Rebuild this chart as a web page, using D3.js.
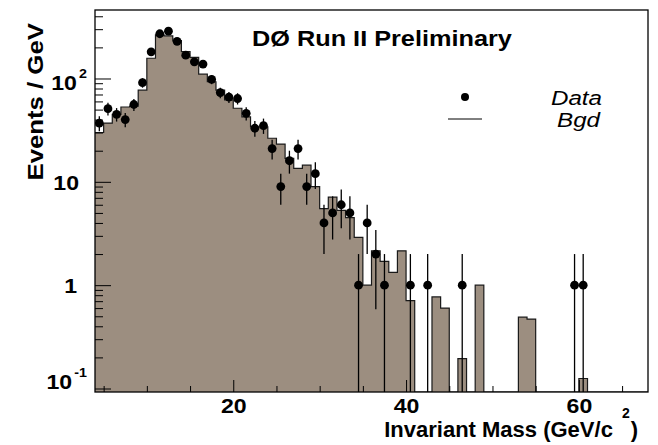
<!DOCTYPE html>
<html>
<head>
<meta charset="utf-8">
<script src="https://cdn.jsdelivr.net/npm/d3@7"></script>
<style>
body { margin: 0; background: #fff; }
svg text { font-family: "Liberation Sans", Arial, Helvetica, sans-serif; }
</style>
</head>
<body>
<div id="chart"></div>
<script>
// background histogram, 1 GeV bins, first bin starts at 4 GeV
var bgdStart = 4;
var bgdValues = [30, 37, 45, 53, 54, 77, 157, 264, 258, 232,
	182, 160, 110, 93, 77, 62, 51.5, 42.6, 34, 34,
	26.4, 23.2, 16.9, 13.5, 14.5, 9.0, 5.5, 7.1, 5.3, 4.5,
	2.9, 1.0, 2.15, 1.7, 1.33, 2.15, 0.71, 0, 0, 0.77,
	0.6, 0, 0.195, 0, 1.0, 0, 0, 0, 0, 0.49,
	0.47, 0, 0, 0, 0, 0, 0.125, 0, 0, 0,
	0, 0, 0, 0];

// data points (bin centre, events per GeV)
var dataMass = [4.5, 5.5, 6.5, 7.5, 8.5, 9.5, 10.5, 11.5, 12.5, 13.5,
	14.5, 15.5, 16.5, 17.5, 18.5, 19.5, 20.5, 21.5, 22.5, 23.5,
	24.5, 25.5, 26.5, 27.5, 28.5, 29.5, 30.5, 31.5, 32.5, 33.5,
	34.5, 35.5, 36.5, 37.5, 40.5, 42.5, 46.5, 59.5, 60.5];
var dataEvents = [37, 51, 45, 40, 56, 91, 181, 271, 287, 229,
	168, 145, 138, 98, 73, 66, 64, 46, 33, 35,
	21, 9, 16, 21, 9, 12, 4, 5, 6, 5,
	1, 4, 2, 1, 1, 1, 1, 1, 1];

// axis ticks
var xMajorTicks = [20, 40, 60];
var xMinorTicks = [5, 10, 15, 25, 30, 35, 45, 50, 55, 65];
var yMajorTicks = [0.1, 1, 10, 100];
var yMinorTicks = [0.2, 0.3, 0.4, 0.5, 0.6, 0.7, 0.8, 0.9,
	2, 3, 4, 5, 6, 7, 8, 9, 20, 30, 40, 50, 60, 70, 80, 90, 200, 300, 400];
var yTickLabels = [
	{ value: 100, base: "10", exp: "2" },
	{ value: 10, base: "10", exp: null },
	{ value: 1, base: "1", exp: null },
	{ value: 0.1, base: "10", exp: "-1" }
];

var xDomain = [4, 68];
var yDomain = [0.0925, 460];

//SVG setup
var margin = { top: 10, right: 10, bottom: 53, left: 95 };
var width = 553;
var height = 382;
var fillColor = "#9c8e80";

var svg = d3.select("#chart")
	.append("svg")
	.attr("width", width + margin.left + margin.right)
	.attr("height", height + margin.top + margin.bottom)
	.append("g")
	.attr("transform", "translate(" + margin.left + "," + margin.top + ")");

//Scales
var x = d3.scaleLinear().domain(xDomain).range([0, width]);
var y = d3.scaleLog().domain(yDomain).range([height, 0]);
var yc = function(v) { return v > yDomain[0] ? y(v) : height; };

svg.append("clipPath").attr("id", "frameClip")
	.append("rect").attr("width", width).attr("height", height);

//Background histogram as steps
var bins = bgdValues.map(function(v, i) { return { lo: bgdStart + i, v: v }; });
bins.push({ lo: bgdStart + bgdValues.length, v: bgdValues[bgdValues.length - 1] });

var plot = svg.append("g").attr("clip-path", "url(#frameClip)");

plot.append("path")
	.datum(bins)
	.attr("fill", fillColor)
	.attr("d", d3.area()
		.curve(d3.curveStepAfter)
		.x(function(d) { return x(d.lo); })
		.y0(height)
		.y1(function(d) { return yc(d.v); }));

plot.append("path")
	.datum(bins)
	.attr("fill", "none")
	.attr("stroke", "#1a1a1a")
	.attr("stroke-width", 1.2)
	.attr("d", d3.line()
		.curve(d3.curveStepAfter)
		.x(function(d) { return x(d.lo); })
		.y(function(d) { return yc(d.v); }));

//Data points with sqrt(N) error bars
var points = dataMass.map(function(m, i) { return { m: m, n: dataEvents[i] }; });
var pt = plot.selectAll(".pt")
	.data(points)
	.enter()
	.append("g")
	.attr("class", "pt");
pt.append("line")
	.attr("x1", function(d) { return x(d.m); })
	.attr("x2", function(d) { return x(d.m); })
	.attr("y1", function(d) { return yc(d.n - Math.sqrt(d.n)); })
	.attr("y2", function(d) { return yc(d.n + Math.sqrt(d.n)); })
	.attr("stroke", "#000")
	.attr("stroke-width", 1.3);
pt.append("circle")
	.attr("cx", function(d) { return x(d.m); })
	.attr("cy", function(d) { return y(d.n); })
	.attr("r", 4.4)
	.attr("fill", "#000");

//Ticks (inside the frame)
var tickAxis = function(axis, cls, transform) {
	var g = svg.append("g").attr("class", cls);
	if (transform) g.attr("transform", transform);
	g.call(axis);
	g.select(".domain").remove();
	g.selectAll(".tick line").attr("stroke", "#000").attr("stroke-width", 1);
	return g;
};
tickAxis(d3.axisLeft(y).tickValues(yMajorTicks).tickSize(-16).tickFormat(""), "y major");
tickAxis(d3.axisLeft(y).tickValues(yMinorTicks).tickSize(-8).tickFormat(""), "y minor");
tickAxis(d3.axisBottom(x).tickValues(xMinorTicks).tickSize(-6).tickFormat(""), "x minor",
	"translate(0," + height + ")");
var xg = tickAxis(d3.axisBottom(x).tickValues(xMajorTicks).tickSize(-12).tickPadding(6)
	.tickFormat(d3.format("d")), "x major", "translate(0," + height + ")");
xg.selectAll("text")
	.attr("fill", "#000")
	.attr("font-size", 21)
	.attr("font-weight", "bold")
	.attr("font-family", "'Liberation Sans', Arial, sans-serif")
	.attr("transform", "scale(1.1,1)");

//Y tick labels with exponents
yTickLabels.forEach(function(t) {
	var base = y(t.value) + (t.exp ? (t.value < 1 ? 0 : 12) : 8);
	var right = t.exp ? -8 : (t.base === "1" ? -18 : -16);
	var txt = svg.append("text")
		.attr("transform", "translate(" + right + "," + base + ") scale(1.1,1)")
		.attr("text-anchor", "end")
		.attr("font-size", 21)
		.attr("font-weight", "bold");
	txt.append("tspan").text(t.base);
	if (t.exp) {
		txt.append("tspan").attr("font-size", 13).attr("dy", -12).attr("dx", 2).text(t.exp);
	}
});

//Frame
svg.append("rect")
	.attr("width", width)
	.attr("height", height)
	.attr("fill", "none")
	.attr("stroke", "#000")
	.attr("stroke-width", 1.3);

//Axis titles
svg.append("text")
	.attr("transform", "translate(-52," + (y(10) - 80) + ") rotate(-90) scale(1.12,1)")
	.attr("text-anchor", "middle")
	.attr("font-size", 23)
	.attr("font-weight", "bold")
	.text("Events / GeV");

var xt = svg.append("text")
	.attr("transform", "translate(" + (width - 10) + "," + (height + 45) + ")")
	.attr("text-anchor", "end")
	.attr("font-size", 22)
	.attr("font-weight", "bold");
xt.append("tspan").text("Invariant Mass (GeV/c");
xt.append("tspan").attr("font-size", 14).attr("dx", 9).attr("dy", -19).text("2");
xt.append("tspan").attr("dx", 1).attr("dy", 19).text(")");

//Title
svg.append("text")
	.attr("transform", "translate(157,36) scale(1.15,1)")
	.attr("font-size", 22)
	.attr("font-weight", "bold")
	.text("D\u00D8 Run II Preliminary");

//Legend
var legendData = [
	{ Text: "Data", type: "point" },
	{ Text: "Bgd", type: "line" }
];
var legend = svg.selectAll(".legend")
	.data(legendData)
	.enter()
	.append("g")
	.attr("class", "legend")
	.attr("transform", function(d, i) { return "translate(0," + (i * 22) + ")"; });
legend.append("text")
	.attr("transform", function(d, i) { return "translate(" + (i ? 505 : 507) + ",95) scale(1.15,1)"; })
	.attr("text-anchor", "end")
	.attr("font-size", 21)
	.attr("font-style", "italic")
	.text(function(d) { return d.Text; });
legend.filter(function(d) { return d.type === "point"; })
	.append("circle")
	.attr("cx", 370).attr("cy", 87).attr("r", 4).attr("fill", "#000");
legend.filter(function(d) { return d.type === "line"; })
	.append("line")
	.attr("x1", 353).attr("x2", 387).attr("y1", 87).attr("y2", 87)
	.attr("stroke", "#000").attr("stroke-width", 1);
</script>
</body>
</html>
